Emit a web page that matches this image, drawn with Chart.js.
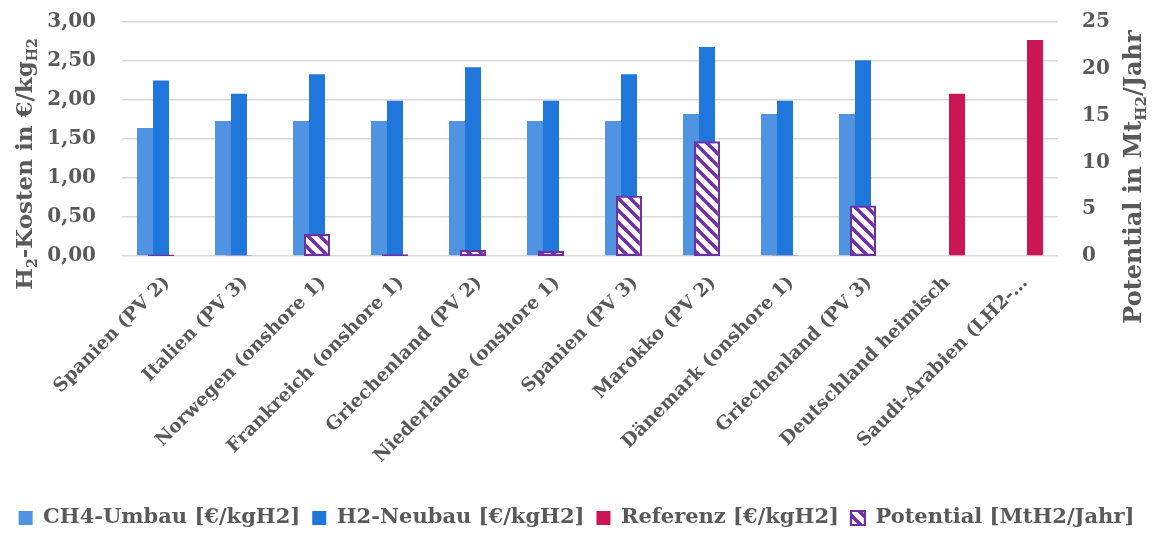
<!DOCTYPE html>
<html>
<head>
<meta charset="utf-8">
<script src="https://cdn.jsdelivr.net/npm/chart.js@4.4.1/dist/chart.umd.min.js"></script>
<style>
  html, body { margin: 0; padding: 0; background: #ffffff; }
  #wrap { width: 1153px; height: 533px; }
</style>
</head>
<body>
<div id="wrap"><canvas id="chart" width="1153" height="533"></canvas></div>
<script>
// Import options for green hydrogen: cost per kg and annual potential
const categories = [
  'Spanien (PV 2)', 'Italien (PV 3)', 'Norwegen (onshore 1)', 'Frankreich (onshore 1)',
  'Griechenland (PV 2)', 'Niederlande (onshore 1)', 'Spanien (PV 3)', 'Marokko (PV 2)',
  'Dänemark (onshore 1)', 'Griechenland (PV 3)', 'Deutschland heimisch', 'Saudi-Arabien (LH2-…'
];
const ch4Umbau  = [1.64, 1.73, 1.73, 1.73, 1.73, 1.73, 1.73, 1.82, 1.82, 1.82, null, null];
const h2Neubau  = [2.25, 2.08, 2.33, 1.99, 2.42, 1.99, 2.33, 2.68, 1.99, 2.51, null, null];
const referenz  = [null, null, null, null, null, null, null, null, null, null, 2.08, 2.77];
const potential = [0.15, 0.05, 2.35, 0.2, 0.65, 0.55, 6.45, 12.25, 0.05, 5.4, null, null];

const costTicks = [0, 0.5, 1, 1.5, 2, 2.5, 3];
const potentialTicks = [0, 5, 10, 15, 20, 25];

const seriesNames = ['CH4-Umbau [€/kgH2]', 'H2-Neubau [€/kgH2]', 'Referenz [€/kgH2]', 'Potential [MtH2/Jahr]'];

const FONT = "'DejaVu Serif', 'Liberation Serif', serif";
const GREY = '#595959';
const PURPLE = '#7030A0';

// diagonal "\" hatch for the potential bars
function makeHatch() {
  const s = 12;
  const c = document.createElement('canvas');
  c.width = s; c.height = s;
  const g = c.getContext('2d');
  g.fillStyle = '#ffffff';
  g.fillRect(0, 0, s, s);
  g.strokeStyle = PURPLE;
  g.lineWidth = 3.6;
  g.lineCap = 'square';
  for (let k = -1; k <= 1; k++) {
    g.beginPath();
    g.moveTo(k * s, 0);
    g.lineTo(k * s + s, s);
    g.stroke();
  }
  return g.createPattern(c, 'repeat');
}
const hatch = makeHatch();

// vertical axis titles with subscripts
function drawRichVertical(ctx, cx, cy, parts, size) {
  ctx.save();
  ctx.translate(cx, cy);
  ctx.rotate(-Math.PI / 2);
  ctx.fillStyle = GREY;
  ctx.textBaseline = 'alphabetic';
  ctx.textAlign = 'left';
  let total = 0;
  const fonts = parts.map(p => `bold ${p.sub ? Math.round(size * 0.62) : size}px ${FONT}`);
  parts.forEach((p, i) => { ctx.font = fonts[i]; p.w = ctx.measureText(p.text).width; total += p.w; });
  let x = -total / 2;
  parts.forEach((p, i) => {
    ctx.font = fonts[i];
    ctx.fillText(p.text, x, p.sub ? size * 0.58 : size * 0.36);
    x += p.w;
  });
  ctx.restore();
}

const axisTitles = {
  id: 'axisTitles',
  afterDraw(chart) {
    const ctx = chart.ctx;
    const area = chart.chartArea;
    drawRichVertical(ctx, 24, area.top + 142, [
      { text: 'H' }, { text: '2', sub: true }, { text: '-Kosten in €/kg' }, { text: 'H2', sub: true }
    ], 23);
    drawRichVertical(ctx, 1132, area.top + 155, [
      { text: 'Potential in Mt' }, { text: 'H2', sub: true }, { text: '/Jahr' }
    ], 24);
  }
};

const fmtCost = v => v.toLocaleString('de-DE', { minimumFractionDigits: 2, maximumFractionDigits: 2 });

// value axes: fixed width, no extra vertical padding from tick labels
function fitValueAxis(width) {
  return s => { s.width = width; s.paddingTop = 0; s.paddingBottom = 0; };
}

new Chart(document.getElementById('chart'), {
  type: 'bar',
  data: {
    labels: categories,
    datasets: [
      { label: seriesNames[0], data: ch4Umbau, backgroundColor: '#4F93E1', yAxisID: 'y',
        categoryPercentage: 0.615, barPercentage: 1.0, order: 1 },
      { label: seriesNames[1], data: h2Neubau, backgroundColor: '#1F77DC', yAxisID: 'y',
        categoryPercentage: 0.615, barPercentage: 1.0, order: 1 },
      { label: seriesNames[2], data: referenz, backgroundColor: '#CC1554', yAxisID: 'y',
        categoryPercentage: 0.615, barPercentage: 1.0, order: 1 },
      { label: seriesNames[3], data: potential, backgroundColor: hatch, borderColor: PURPLE,
        borderWidth: 2.2, borderSkipped: false, yAxisID: 'y2', grouped: false,
        categoryPercentage: 1.0, barPercentage: 0.335, order: 0 }
    ]
  },
  options: {
    responsive: false,
    animation: false,
    layout: { padding: { top: 22, left: 0, right: 0, bottom: -5.5 } },
    plugins: {
      tooltip: { enabled: false },
      legend: {
        position: 'bottom',
        labels: {
          sort: (a, b) => a.datasetIndex - b.datasetIndex,
          boxWidth: 14, boxHeight: 14, padding: 12,
          color: GREY,
          font: { family: FONT, size: 21, weight: 'bold' }
        }
      }
    },
    scales: {
      x: {
        grid: { display: false },
        border: { display: false },
        ticks: {
          autoSkip: false, minRotation: 45, maxRotation: 45, padding: 8, labelOffset: 6,
          color: GREY, font: { family: FONT, size: 18.5, weight: 'bold' }
        },
        afterFit(s) { s.height = 239.5; }
      },
      y: {
        position: 'left',
        min: 0, max: 3,
        afterBuildTicks(s) { s.ticks = costTicks.map(v => ({ value: v })); },
        grid: { color: '#D9D9D9', lineWidth: 1.5, drawTicks: false },
        border: { display: false },
        ticks: {
          padding: 26, color: GREY,
          font: { family: FONT, size: 20, weight: 'bold' },
          callback: v => fmtCost(v)
        },
        afterFit: fitValueAxis(122)
      },
      y2: {
        position: 'right',
        min: 0, max: 25,
        afterBuildTicks(s) { s.ticks = potentialTicks.map(v => ({ value: v })); },
        grid: { display: false, drawTicks: false },
        border: { display: false },
        ticks: {
          padding: 24, color: GREY,
          font: { family: FONT, size: 20, weight: 'bold' }
        },
        afterFit: fitValueAxis(95)
      }
    }
  },
  plugins: [axisTitles]
});
</script>
</body>
</html>
